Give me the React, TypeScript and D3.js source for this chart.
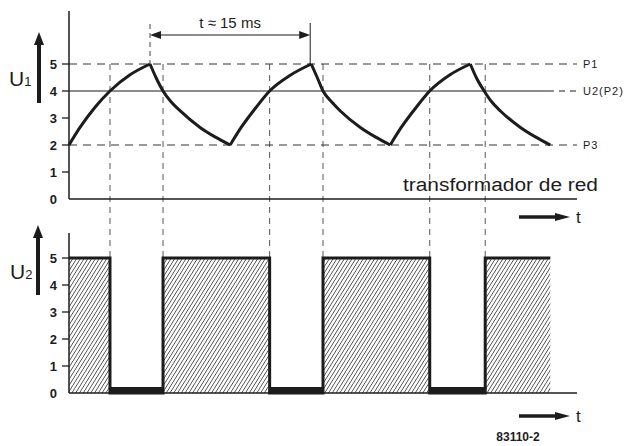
import * as d3 from 'd3';

// U1: time (ms) / voltage samples, peaks at 5 and troughs at 2
const u1Time = [
  0, 1.03, 2.44, 3.84, 5.72, 7.59, 8.15, 8.81, 9.56, 10.4, 12.28, 13.68, 15.1,
  16.13, 17.54, 18.8, 20.8, 22.7, 23.26, 23.8, 24.6, 25.4, 27.3, 28.7, 30.1,
  31.13, 32.54, 33.8, 35.7, 37.6, 38.16, 38.9, 39.6, 40.4, 42.3, 43.7, 45.1
];
const u1Value = [
  2, 2.65, 3.4, 4, 4.6, 5, 4.5, 4, 3.6, 3.27, 2.65, 2.3, 2,
  2.65, 3.4, 4, 4.6, 5, 4.5, 4, 3.6, 3.27, 2.65, 2.3, 2,
  2.65, 3.4, 4, 4.6, 5, 4.5, 4, 3.6, 3.27, 2.65, 2.3, 2
];

// U2: switching edges and levels of the square wave
const u2Edges = [0, 3.84, 8.81, 18.8, 23.8, 33.8, 39.0, 45.1];
const u2Levels = [5, 0, 5, 0, 5, 0, 5];

// where U1 crosses U2(P2)
const crossTimes = [3.84, 8.81, 18.8, 23.8, 33.8, 39.0];

const refLevels = [5, 4, 2];
const refLabels = ['P1', 'U2(P2)', 'P3'];
const yTicks = [0, 1, 2, 3, 4, 5];
const periodStart = 7.59;
const periodEnd = 22.6;

const W = 627;
const H = 446;
const font = '"Liberation Sans", Arial, Helvetica, sans-serif';
const ink = '#1c1c1c';

export default function App() {
  const x = d3.scaleLinear().domain([0, 47.6]).range([69, 577]);
  const yTop = d3.scaleLinear().domain([0, 5]).range([199, 64]);
  const yBot = d3.scaleLinear().domain([0, 5]).range([393, 258]);

  // split U1 into rise / fall pieces so the peaks stay sharp
  const pts = u1Time.map((t, i) => [t, u1Value[i]] as [number, number]);
  const segs: [number, number][][] = [];
  let cur: [number, number][] = [pts[0]];
  for (let i = 1; i < pts.length; i++) {
    cur.push(pts[i]);
    const isExt = i < pts.length - 1 && (pts[i][1] === 5 || pts[i][1] === 2);
    if (isExt) {
      segs.push(cur);
      cur = [pts[i]];
    }
  }
  segs.push(cur);
  const line = d3
    .line<[number, number]>()
    .x((d) => x(d[0]))
    .y((d) => yTop(d[1]))
    .curve(d3.curveMonotoneX);

  // square wave outline
  let outline = `M${x(u2Edges[0])},${yBot(u2Levels[0])}`;
  u2Levels.forEach((lv, i) => {
    if (i > 0) outline += `L${x(u2Edges[i])},${yBot(lv)}`;
    outline += `L${x(u2Edges[i + 1])},${yBot(lv)}`;
  });

  const arrowUp = (cx: number, y1: number, tip: number) => (
    <g>
      <line x1={cx} x2={cx} y1={y1} y2={tip + 10} stroke={ink} strokeWidth={4} />
      <path d={`M${cx},${tip}L${cx - 5},${tip + 13}L${cx + 5},${tip + 13}Z`} fill={ink} />
    </g>
  );
  const arrowRight = (y: number) => (
    <g>
      <line x1={519} x2={560} y1={y} y2={y} stroke={ink} strokeWidth={3.5} />
      <path d={`M570,${y}L555,${y - 4}L555,${y + 4}Z`} fill={ink} />
      <text x={576} y={y + 6} fontSize={17} fontFamily={font} fill={ink}>t</text>
    </g>
  );

  return (
    <svg width={W} height={H} style={{ position: 'absolute', left: 0, top: 0, background: '#fff' }}>
      <defs>
        <pattern id="hatch" patternUnits="userSpaceOnUse" width={3.2} height={8} patternTransform="rotate(32)">
          <line x1={0} x2={0} y1={0} y2={8} stroke="#222" strokeWidth={1.3} />
        </pattern>
      </defs>

      {/* vertical guide lines at the crossings */}
      {crossTimes.map((t) => (
        <line key={t} x1={x(t)} x2={x(t)} y1={yTop(5)} y2={yBot(5)} stroke="#555" strokeWidth={1} strokeDasharray="6,5" />
      ))}

      {/* reference levels */}
      {refLevels.map((lv, i) => (
        <g key={lv}>
          {lv === 4 ? (
            <>
              <line x1={x(0)} x2={548} y1={yTop(lv)} y2={yTop(lv)} stroke={ink} strokeWidth={1.2} />
              <line x1={548} x2={577} y1={yTop(lv)} y2={yTop(lv)} stroke={ink} strokeWidth={1} strokeDasharray="6,5" />
            </>
          ) : (
            <line x1={x(0)} x2={577} y1={yTop(lv)} y2={yTop(lv)} stroke="#333" strokeWidth={1} strokeDasharray="8,6" />
          )}
          <text x={583} y={yTop(lv) + 4} fontSize={11} fontFamily={font} fill={ink} letterSpacing={1}>
            {refLabels[i]}
          </text>
        </g>
      ))}

      {/* period annotation */}
      <line x1={x(periodStart)} x2={x(periodStart)} y1={24} y2={yTop(5)} stroke="#444" strokeWidth={1} strokeDasharray="5,4" />
      <line x1={x(periodEnd)} x2={x(periodEnd)} y1={23} y2={yTop(5)} stroke={ink} strokeWidth={1} />
      <line x1={x(periodStart) + 8} x2={x(periodEnd) - 8} y1={35} y2={35} stroke={ink} strokeWidth={1.2} />
      <path d={`M${x(periodStart)},35l11,-4l0,8Z`} fill={ink} />
      <path d={`M${x(periodEnd)},35l-11,-4l0,8Z`} fill={ink} />
      <text x={(x(periodStart) + x(periodEnd)) / 2} y={28} textAnchor="middle" fontSize={15} fontFamily={font} fill={ink}>
        t ≈ 15 ms
      </text>

      {/* U1 curve */}
      {segs.map((s, i) => (
        <path key={i} d={line(s) || ''} fill="none" stroke={ink} strokeWidth={3} strokeLinejoin="round" />
      ))}

      {/* U2 hatched blocks */}
      {u2Levels.map((lv, i) =>
        lv > 0 ? (
          <rect key={i} x={x(u2Edges[i])} y={yBot(lv)} width={x(u2Edges[i + 1]) - x(u2Edges[i])} height={yBot(0) - yBot(lv)} fill="url(#hatch)" />
        ) : (
          <rect key={i} x={x(u2Edges[i])} y={yBot(0) - 6} width={x(u2Edges[i + 1]) - x(u2Edges[i])} height={6} fill={ink} />
        )
      )}
      <path d={outline} fill="none" stroke={ink} strokeWidth={3} />

      {/* axes */}
      {[
        { y: yTop, top: 11 },
        { y: yBot, top: 233 }
      ].map((a, k) => (
        <g key={k}>
          <line x1={69} x2={69} y1={a.top} y2={a.y(0)} stroke={ink} strokeWidth={1.5} />
          <line x1={69} x2={577} y1={a.y(0)} y2={a.y(0)} stroke={ink} strokeWidth={1.5} />
          {yTicks.map((v) => (
            <g key={v}>
              {v > 0 && <line x1={62} x2={69} y1={a.y(v)} y2={a.y(v)} stroke={ink} strokeWidth={1.3} />}
              <text x={57} y={a.y(v) + 5} textAnchor="end" fontSize={13} fontWeight={600} fontFamily={font} fill={ink}>
                {v}
              </text>
            </g>
          ))}
        </g>
      ))}

      {/* axis captions */}
      {arrowUp(39, 103, 32)}
      <text x={9} y={86} fontSize={21} fontFamily={font} fill={ink}>
        U<tspan fontSize={13}>1</tspan>
      </text>
      {arrowUp(38, 295, 225)}
      <text x={10} y={279} fontSize={21} fontFamily={font} fill={ink}>
        U<tspan fontSize={13}>2</tspan>
      </text>

      <text x={403} y={191} fontSize={18} fontFamily={font} fill={ink} textLength={195} lengthAdjust="spacingAndGlyphs">
        transformador de red
      </text>
      {arrowRight(217)}
      {arrowRight(416)}
      <text x={518} y={441} textAnchor="middle" fontSize={12} fontWeight={700} fontFamily={font} fill={ink}>
        83110-2
      </text>
    </svg>
  );
}
